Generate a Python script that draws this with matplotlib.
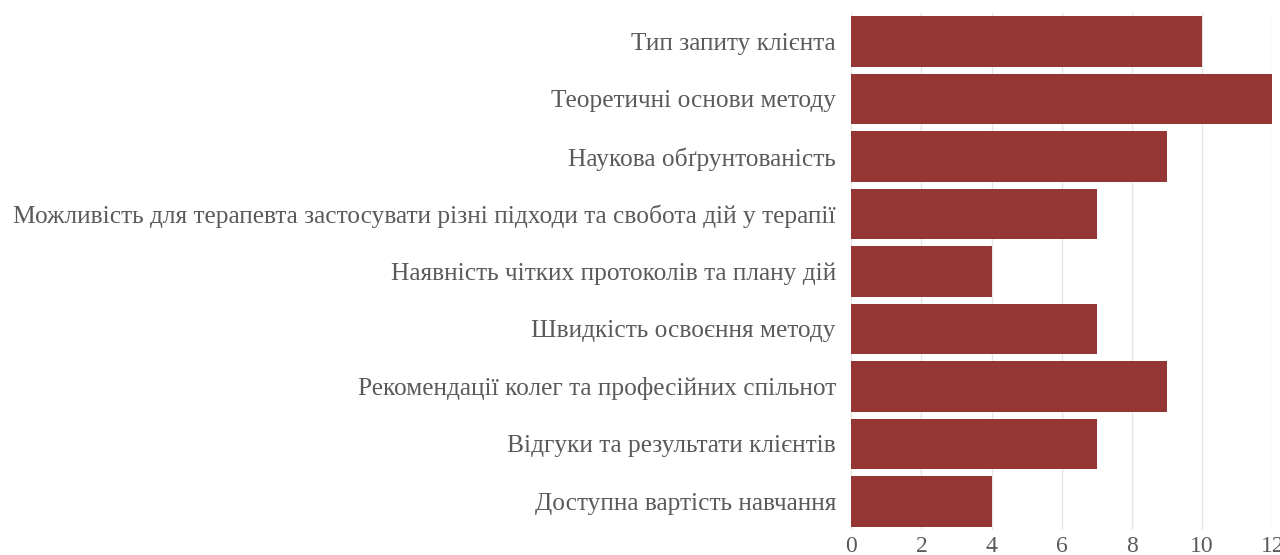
import matplotlib.pyplot as plt

CATEGORIES = [
    "Тип запиту клієнта",
    "Теоретичні основи методу",
    "Наукова обґрунтованість",
    "Можливість для терапевта застосувати різні підходи та свобота дій у терапії",
    "Наявність чітких протоколів та плану дій",
    "Швидкість освоєння методу",
    "Рекомендації колег та професійних спільнот",
    "Відгуки та результати клієнтів",
    "Доступна вартість навчання",
]
VALUES = [10, 12, 9, 7, 4, 7, 9, 7, 4]
X_TICKS = [0, 2, 4, 6, 8, 10, 12]

BAR_COLOR = "#943634"
TEXT_COLOR = "#5a5a5a"

plt.rcParams["font.family"] = ["Liberation Serif", "DejaVu Serif"]

fig = plt.figure(figsize=(12.8, 5.55), dpi=100)
ax = fig.add_axes([0.665, 0.045, 0.329, 0.932])

pos = list(range(len(CATEGORIES)))
ax.barh(pos, VALUES, height=0.88, color=BAR_COLOR, zorder=3)
ax.set_yticks(pos)
ax.set_yticklabels(CATEGORIES, fontsize=18.3, color=TEXT_COLOR)
ax.set_ylim(len(CATEGORIES) - 0.5, -0.5)

ax.set_xlim(0, 12)
ax.set_xticks(X_TICKS)
ax.set_xticklabels([str(t) for t in X_TICKS], fontsize=17, color=TEXT_COLOR)
ax.grid(axis="x", color="#e6e6e6", linewidth=1, zorder=0)
ax.tick_params(axis="y", length=0, pad=11)
ax.tick_params(axis="x", length=0, pad=4)
for s in ax.spines.values():
    s.set_visible(False)

fig.savefig("out.png", dpi=100)
